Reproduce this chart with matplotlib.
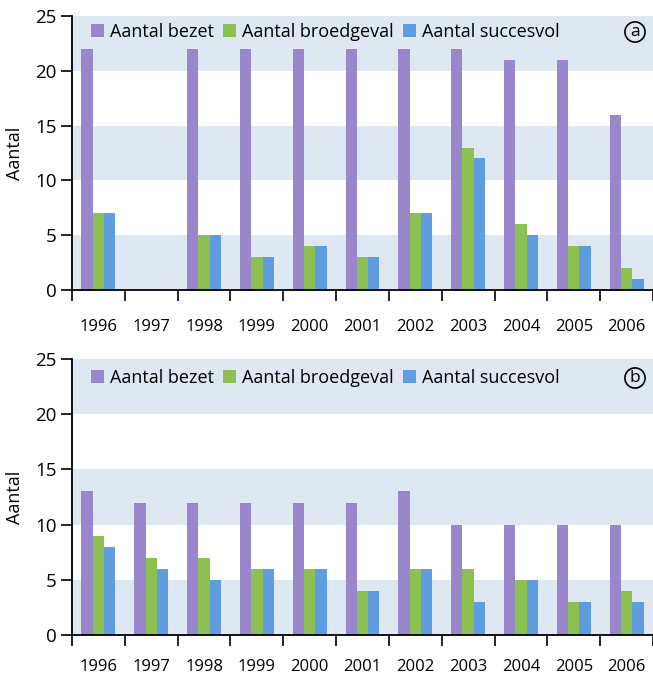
import matplotlib
matplotlib.use("Agg")
import matplotlib.pyplot as plt
import numpy as np

plt.rcParams['font.family'] = ['Open Sans', 'DejaVu Sans']

years = ["1996", "1997", "1998", "1999", "2000", "2001", "2002", "2003", "2004", "2005", "2006"]
series_names = ["Aantal bezet", "Aantal broedgeval", "Aantal succesvol"]

a_bezet = [22, 0, 22, 22, 22, 22, 22, 22, 21, 21, 16]
a_broedgeval = [7, 0, 5, 3, 4, 3, 7, 13, 6, 4, 2]
a_succesvol = [7, 0, 5, 3, 4, 3, 7, 12, 5, 4, 1]

b_bezet = [13, 12, 12, 12, 12, 12, 13, 10, 10, 10, 10]
b_broedgeval = [9, 7, 7, 6, 6, 4, 6, 6, 5, 3, 4]
b_succesvol = [8, 6, 5, 6, 6, 4, 6, 3, 5, 3, 3]

yticks = [0, 5, 10, 15, 20, 25]
panel_labels = ["a", "b"]

colors = ["#9a87cb", "#8cc152", "#5f9de0"]
band_color = "#dde8f3"

W, H = 653, 678
fig = plt.figure(figsize=(W / 100, H / 100), dpi=100)

def make_axes(top_px, bottom_px):
    left = 72 / W
    width = 581 / W
    bottom = 1 - bottom_px / H
    height = (bottom_px - top_px) / H
    return fig.add_axes([left, bottom, width, height])

ax_a = make_axes(16, 290)
ax_b = make_axes(359, 635)

def draw(ax, data, letter, legend_y, xpad):
    x = np.arange(len(years))
    bw = 0.214
    for i, (vals, c, name) in enumerate(zip(data, colors, series_names)):
        ax.bar(x + (i - 1) * bw, vals, width=bw, color=c, label=name, zorder=3, linewidth=0)
    for lo, hi in [(0, 5), (10, 15), (20, 25)]:
        ax.axhspan(lo, hi, color=band_color, zorder=0, linewidth=0)
    ax.set_xlim(-0.5, len(years) - 0.5)
    ax.set_ylim(0, 25)
    ax.set_yticks(yticks)
    ax.set_yticklabels([str(t) for t in yticks], fontsize=13.5)
    ax.set_xticks(np.arange(len(years) + 1) - 0.5)
    ax.set_xticklabels([])
    ax.set_xticks(x, minor=True)
    ax.set_xticklabels(years, minor=True, fontsize=12)
    ax.tick_params(axis='x', which='minor', length=0, pad=xpad)
    ax.tick_params(axis='x', which='major', length=8, width=1.2, direction='out')
    ax.tick_params(axis='y', length=8, width=1.2, direction='out', pad=3)
    for s in ['top', 'right']:
        ax.spines[s].set_visible(False)
    for s in ['left', 'bottom']:
        ax.spines[s].set_linewidth(1.3)
        ax.spines[s].set_zorder(5)
    ax.set_ylabel("Aantal", fontsize=13)
    ax.yaxis.set_label_coords(-0.083, 0.5)
    ax.legend(loc='center left', bbox_to_anchor=((91 - 72) / 581, legend_y), ncol=3, frameon=False,
              prop={'size': 13},
              handlelength=0.72, handleheight=0.72, handletextpad=0.33,
              columnspacing=0.5, borderaxespad=0, borderpad=0)
    ax.text((635 - 72) / 581, legend_y, letter, transform=ax.transAxes, ha='center', va='center',
            fontsize=12.5,
            bbox=dict(boxstyle='circle,pad=0.12', fc='none', ec='black', lw=1.2), zorder=6)

draw(ax_a, [a_bezet, a_broedgeval, a_succesvol], panel_labels[0], (290 - 32) / 274, 21)
draw(ax_b, [b_bezet, b_broedgeval, b_succesvol], panel_labels[1], (635 - 378) / 276, 17)

fig.savefig("out.png", dpi=100)
